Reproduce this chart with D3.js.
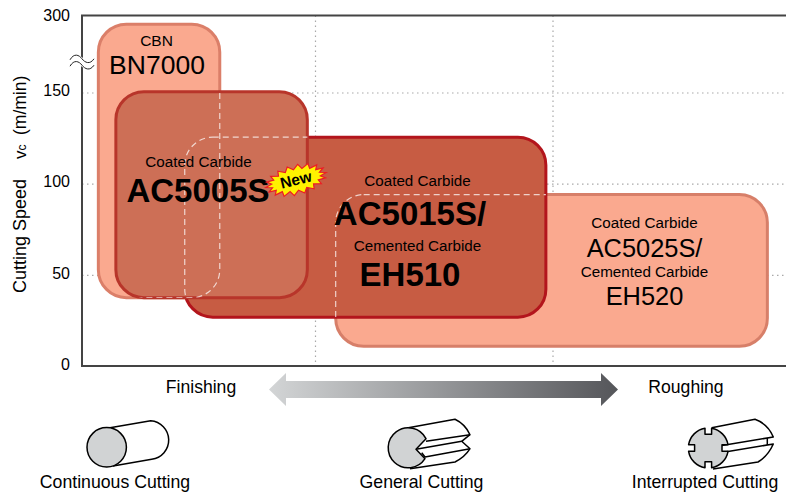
<!DOCTYPE html>
<html>
<head>
<meta charset="utf-8">
<script src="https://cdn.jsdelivr.net/npm/d3@7"></script>
<style>
  html, body { margin: 0; padding: 0; background: #fff; }
  svg { display: block; }
  text { font-family: "Liberation Sans", Arial, sans-serif; fill: #000; }
</style>
</head>
<body>
<div id="chart"></div>
<script>
// cutting speed axis (broken above 150) and the finishing -> roughing position axis
var speedTicks = [0, 50, 100, 150, 300];
var positionTicks = [1, 2];

// one entry per grade region, drawn back to front
var grades = ["BN7000", "AC5025S", "AC5015S", "AC5005S"];
var speedLow = [37.5, 10.8, 26.8, 37.5];
var speedHigh = [283, 94, 125.5, 151.5];
var positionLow = [0.07, 1.085, 0.44, 0.145];
var positionHigh = [0.59, 2.92, 1.97, 0.965];

var bottomLabels = ["Continuous Cutting", "General Cutting", "Interrupted Cutting"];

var width = 786, height = 495;

var y = d3.scaleLinear().domain([0, 150, 300]).range([366, 92.5, 15.5]);
var x = d3.scaleLinear().domain([0, 1, 2, 3]).range([82, 315.5, 553, 786]);

var svg = d3.select("#chart").append("svg")
  .attr("width", width)
  .attr("height", height);

var defs = svg.append("defs");

// grid
svg.append("g").selectAll("line").data(speedTicks.slice(1, 4)).join("line")
  .attr("x1", x(0)).attr("x2", width)
  .attr("y1", function(d) { return y(d) + 0.5; })
  .attr("y2", function(d) { return y(d) + 0.5; })
  .attr("stroke", "#a9a9a9")
  .attr("stroke-width", 1.2)
  .attr("stroke-dasharray", "1.5 3.5");

svg.append("g").selectAll("line").data(positionTicks).join("line")
  .attr("x1", function(d) { return x(d); })
  .attr("x2", function(d) { return x(d); })
  .attr("y1", y(300)).attr("y2", y(0))
  .attr("stroke", "#a9a9a9")
  .attr("stroke-width", 1.2)
  .attr("stroke-dasharray", "1.5 3.5");

// frame
svg.append("path")
  .attr("d", d3.line()([[width, y(300)], [x(0), y(300)], [x(0), y(0)], [width, y(0)]]))
  .attr("fill", "none")
  .attr("stroke", "#444")
  .attr("stroke-width", 2);

// speed axis
var axis = d3.axisLeft(y).tickValues(speedTicks).tickSize(0).tickPadding(12);
var axisG = svg.append("g").attr("transform", "translate(" + x(0) + ",0)").call(axis);
axisG.select(".domain").remove();
axisG.selectAll("text")
  .style("font-size", "16px")
  .attr("dy", "0.32em")
  .attr("y", function(d) { return d === 300 ? -0.5 : (d === 50 ? -1 : -2); });

// axis title, v with a small c
var title = svg.append("g").attr("transform", "translate(26,0) rotate(-90)");
title.append("text").attr("x", -293).style("font-size", "18px").text("Cutting Speed");
title.append("text").attr("x", -159).style("font-size", "17px").text("v");
title.append("text").attr("x", -150.5).style("font-size", "12px").text("c");
title.append("text").attr("x", -135).style("font-size", "17.5px").text("(m/min)");

// axis break
var breakMark = svg.append("g").attr("fill", "none");
breakMark.append("path")
  .attr("d", "M70,63 C74,56 79,58 82,62 S90,68 94,62")
  .attr("stroke", "#fff").attr("stroke-width", 7);
[-3.2, 3.2].forEach(function(dy) {
  breakMark.append("path")
    .attr("transform", "translate(0," + dy + ")")
    .attr("d", "M70,63 C74,56 79,58 82,62 S90,68 94,62")
    .attr("stroke", "#222").attr("stroke-width", 1);
});

// regions
var fills = ["#faa98f", "#faa98f", "#c75c43", "#cd6f56"];
var strokes = ["#db7f69", "#d77f69", "#b3151c", "#b8352a"];
var cornerRadius = 28;

function regionX(i) { return x(positionLow[i]); }
function regionY(i) { return y(speedHigh[i]); }
function regionW(i) { return x(positionHigh[i]) - x(positionLow[i]); }
function regionH(i) { return y(speedLow[i]) - y(speedHigh[i]); }

svg.append("g").selectAll("rect").data(grades).join("rect")
  .attr("x", function(d, i) { return regionX(i); })
  .attr("y", function(d, i) { return regionY(i); })
  .attr("width", function(d, i) { return regionW(i); })
  .attr("height", function(d, i) { return regionH(i); })
  .attr("rx", cornerRadius)
  .attr("fill", function(d, i) { return fills[i]; })
  .attr("stroke", function(d, i) { return strokes[i]; })
  .attr("stroke-width", 3);

// dashed outlines show the hidden part of a region where another one covers it
var hidden = [
  { region: 0, cover: 3 },
  { region: 2, cover: 3 },
  { region: 1, cover: 2 }
];

hidden.forEach(function(h, k) {
  defs.append("clipPath").attr("id", "cover" + k).append("rect")
    .attr("x", regionX(h.cover))
    .attr("y", regionY(h.cover))
    .attr("width", regionW(h.cover))
    .attr("height", regionH(h.cover))
    .attr("rx", cornerRadius);
  svg.append("rect")
    .attr("clip-path", "url(#cover" + k + ")")
    .attr("x", regionX(h.region))
    .attr("y", regionY(h.region))
    .attr("width", regionW(h.region))
    .attr("height", regionH(h.region))
    .attr("rx", cornerRadius)
    .attr("fill", "none")
    .attr("stroke", "#fff")
    .attr("stroke-opacity", 0.72)
    .attr("stroke-width", 1.2)
    .attr("stroke-dasharray", "6 4");
});

// region labels
function label(txt, cx, base, size, bold, anchor) {
  svg.append("text")
    .attr("x", cx).attr("y", base)
    .attr("text-anchor", anchor || "middle")
    .style("font-size", size + "px")
    .style("font-weight", bold ? "bold" : "normal")
    .text(txt);
}

label("CBN", 156.5, 46, 15.5);
label("BN7000", 157, 74, 26.5);

label("Coated Carbide", 198.5, 167, 15.2);
label("AC5005S", 198, 202, 33, true);

label("Coated Carbide", 417.5, 186, 15.2);
label("AC5015S/", 410, 225, 33, true);
label("Cemented Carbide", 417.5, 251, 15.2);
label("EH510", 410, 286, 33, true);

label("Coated Carbide", 644.5, 228, 15.2);
label("AC5025S/", 644.5, 257, 25.4);
label("Cemented Carbide", 644.5, 277, 15.2);
label("EH520", 644.5, 305, 25.4);

// "New" burst
var burst = svg.append("g").attr("transform", "translate(296,180) rotate(-14)");
var burstCount = 36;
var burstPoints = d3.range(burstCount).map(function(i) {
  var a = i / burstCount * 2 * Math.PI;
  var outer = i % 2 === 0;
  return [Math.cos(a) * (outer ? 31 : 25), Math.sin(a) * (outer ? 15 : 10.5)];
});
burst.append("polygon")
  .attr("points", burstPoints.join(" "))
  .attr("fill", "#fff200")
  .attr("stroke", "#ed1c24")
  .attr("stroke-width", 1.2);
burst.append("text")
  .attr("text-anchor", "middle")
  .attr("y", 5)
  .style("font-size", "15.5px")
  .style("font-weight", "bold")
  .text("New");

// finishing <-> roughing arrow
var grad = defs.append("linearGradient").attr("id", "arrowGrad");
grad.append("stop").attr("offset", "0%").attr("stop-color", "#d3d5d6");
grad.append("stop").attr("offset", "100%").attr("stop-color", "#55565a");

svg.append("path")
  .attr("d", d3.line()([[269, 389.5], [286, 373], [286, 381], [601, 381], [601, 373], [618, 389.5],
    [601, 406], [601, 398], [286, 398], [286, 406]]) + "Z")
  .attr("fill", "url(#arrowGrad)");

label("Finishing", 201, 393, 17.6);
label("Roughing", 686, 393, 17.6);

// workpiece icons
var ink = { fill: "none", stroke: "#000", "stroke-width": 1.5, "stroke-linejoin": "round" };
function icon(d, fill) {
  var p = svg.append("path").attr("d", d);
  Object.keys(ink).forEach(function(k) { p.attr(k, ink[k]); });
  if (fill) p.attr("fill", fill);
  return p;
}

// continuous
icon("M110,427.7 L150.7,420.7 A19.4,19.4 0 0 1 151.7,459.3 L113,466");
icon("M87,447.3 a19.7,19.7 0 1 0 39.4,0 a19.7,19.7 0 1 0 -39.4,0 Z", "#d1d3d4");

// general
icon("M408.3,427.7 L455,419.3 Q465,424 470,434.7 L461.7,441.3 L470,448.7 Q465,457 455,462 L410,468.7");
icon("M426,441.3 L470,434.7 M416,449.3 L461.7,441.3 M421.7,452.7 L425,457 L470,448.7");
icon("M426,438.7 A20,20 0 1 0 425,458.7 L416,449.3 Z", "#d1d3d4");

// interrupted
icon("M711.7,427.7 L755,419.3 Q768,424 773.3,437 L722,445.5 M722,452.5 L773.3,444 Q768,456 758,462 L713,469");
icon("M767.3,438 L767.3,445");
icon("M3.3,-19.7 A20,20 0 0 1 19.7,-3.3 L13.7,-3.3 L13.7,3.3 L19.7,3.3 A20,20 0 0 1 3.3,19.7 L3.3,13.7 L-3.3,13.7 L-3.3,19.7 A20,20 0 0 1 -19.7,3.3 L-13.7,3.3 L-13.7,-3.3 L-19.7,-3.3 A20,20 0 0 1 -3.3,-19.7 L-3.3,-13.7 L3.3,-13.7 Z", "#d1d3d4")
  .attr("transform", "translate(708.3,448)");

var labelCenters = [115, 421.5, 705];
bottomLabels.forEach(function(t, i) {
  label(t, labelCenters[i], 488, 17.7);
});
</script>
</body>
</html>
